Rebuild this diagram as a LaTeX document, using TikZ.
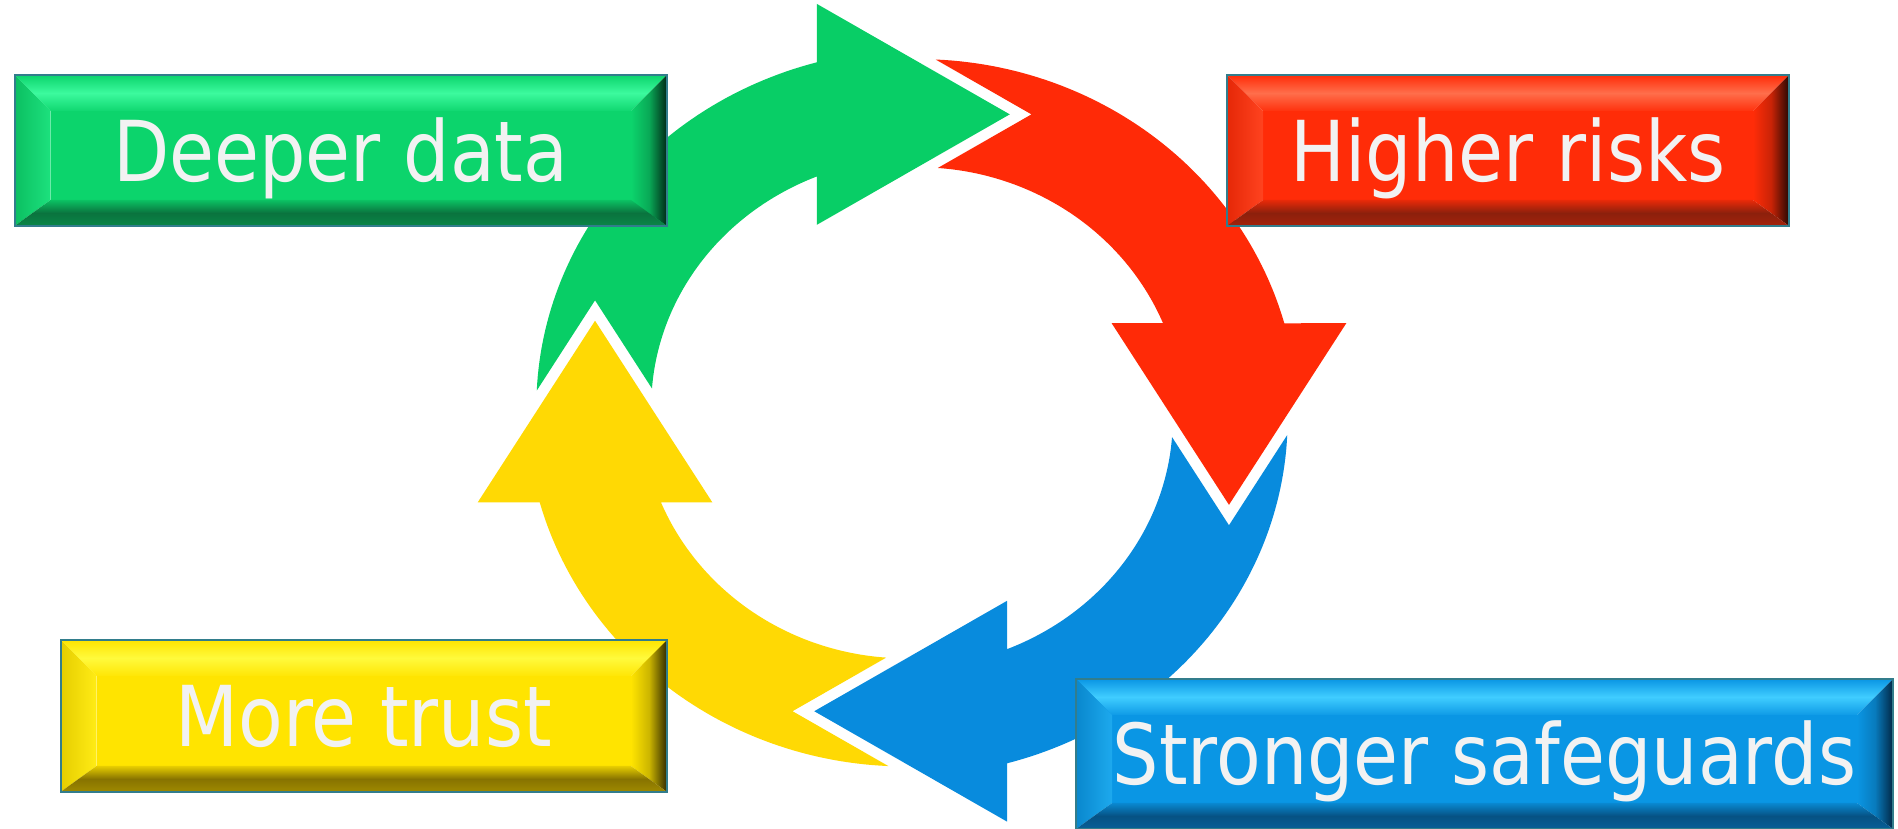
\documentclass[tikz,border=0pt]{standalone}
\usepackage{fontspec}
\newfontfamily\labelfont[FakeStretch=0.87]{DejaVu Sans}
\usetikzlibrary{calc}

% arrow colours
\definecolor{arrowgreen}{RGB}{8,206,102}
\definecolor{arrowred}{RGB}{255,42,7}
\definecolor{arrowblue}{RGB}{8,139,221}
\definecolor{arrowyellow}{RGB}{255,217,4}

% button colours: face, highlight, dark band, dark edge
\definecolor{gface}{RGB}{12,212,108}\definecolor{glight}{RGB}{60,250,158}
\definecolor{gdark}{RGB}{10,115,62}\definecolor{gside}{RGB}{0,40,22}
\definecolor{rface}{RGB}{255,44,8}\definecolor{rlight}{RGB}{255,110,75}
\definecolor{rdark}{RGB}{140,32,12}\definecolor{rside}{RGB}{40,8,2}
\definecolor{bface}{RGB}{10,150,228}\definecolor{blight}{RGB}{64,205,255}
\definecolor{bdark}{RGB}{6,82,132}\definecolor{bside}{RGB}{2,40,70}
\definecolor{yface}{RGB}{255,228,0}\definecolor{ylight}{RGB}{255,250,60}
\definecolor{ydark}{RGB}{135,115,0}\definecolor{yside}{RGB}{50,42,0}
\definecolor{boxedge}{RGB}{50,125,140}
\definecolor{textwhite}{RGB}{242,242,242}

\tikzset{
  labeltext/.style={font=\labelfont\fontsize{84}{90}\selectfont, text=textwhite,
    anchor=base, inner sep=0pt},
  edgeline/.style={draw=boxedge, line width=2pt},
}

% bevelled button: name, left, bottom, right, top, colour prefix, label
\newcommand\bevelbox[7]{%
  \pgfmathsetmacro\xa{#2}\pgfmathsetmacro\xb{#2+36}%
  \pgfmathsetmacro\xc{#4-36}\pgfmathsetmacro\xd{#4}%
  \pgfmathsetmacro\ya{#3}\pgfmathsetmacro\yb{#3+26}%
  \pgfmathsetmacro\yc{#5-36}\pgfmathsetmacro\yd{#5}%
  \pgfmathsetmacro\xm{(#2+#4)/2}\pgfmathsetmacro\ym{(#3+#5)/2-31}%
  \fill[#6face] (\xb,\yb) rectangle (\xc,\yc);
  \shade[top color=#6face, bottom color=#6face!92!#6light, middle color=#6light]
    (\xa,\yd) -- (\xd,\yd) -- (\xc,\yc) -- (\xb,\yc) -- cycle;
  \shade[left color=#6face!90!black, right color=#6light!35!#6face]
    (\xa,\yd) -- (\xb,\yc) -- (\xb,\yb) -- (\xa,\ya) -- cycle;
  \shade[left color=#6face, right color=#6side, middle color=#6face!75!#6side]
    (\xd,\yd) -- (\xc,\yc) -- (\xc,\yb) -- (\xd,\ya) -- cycle;
  \shade[top color=#6face!80!#6dark, bottom color=#6dark!80!#6face, middle color=#6dark]
    (\xa,\ya) -- (\xb,\yb) -- (\xc,\yb) -- (\xd,\ya) -- cycle;
  \draw[edgeline] (\xa,\ya) rectangle (\xd,\yd);
  \node[labeltext] (#1) at (\xm, \ym) {#7};
}

\begin{document}
\begin{tikzpicture}[x=1pt, y=1pt]
\useasboundingbox (0,0) rectangle (1898,829);

% four curved arrows forming the cycle; each band widens slightly towards its head,
% and each tail is notched to fit the head before it
\begin{scope}[shift={(912,416.2)}, xscale=376, yscale=354]
  \foreach \turn/\col in {0/arrowgreen, -90/arrowred, -180/arrowblue, -270/arrowyellow}{
    \fill[\col, rotate=\turn]
      plot[domain=176.40:104.33, samples=60] ({\x}:{1+0.022*(176.40-\x)/72.07})
      -- (104.33:1.022)
      -- (-0.253,1.155) -- (0.26,0.843) -- (-0.253,0.531)
      -- (110.75:0.714)
      -- plot[domain=110.75:174.33, samples=60] ({\x}:{0.714-0.019*(\x-110.75)/63.58})
      -- (-0.843,0.3177) -- cycle;
  }
\end{scope}

% labelled buttons
\bevelbox{deeper}{14.5}{603}{667}{754}{g}{Deeper data}
\bevelbox{higher}{1227}{603}{1789}{754}{r}{Higher risks}
\bevelbox{trust}{60.5}{37}{667}{189}{y}{More trust}
\bevelbox{safeguards}{1076}{0}{1893}{150}{b}{Stronger safeguards}
\end{tikzpicture}
\end{document}
